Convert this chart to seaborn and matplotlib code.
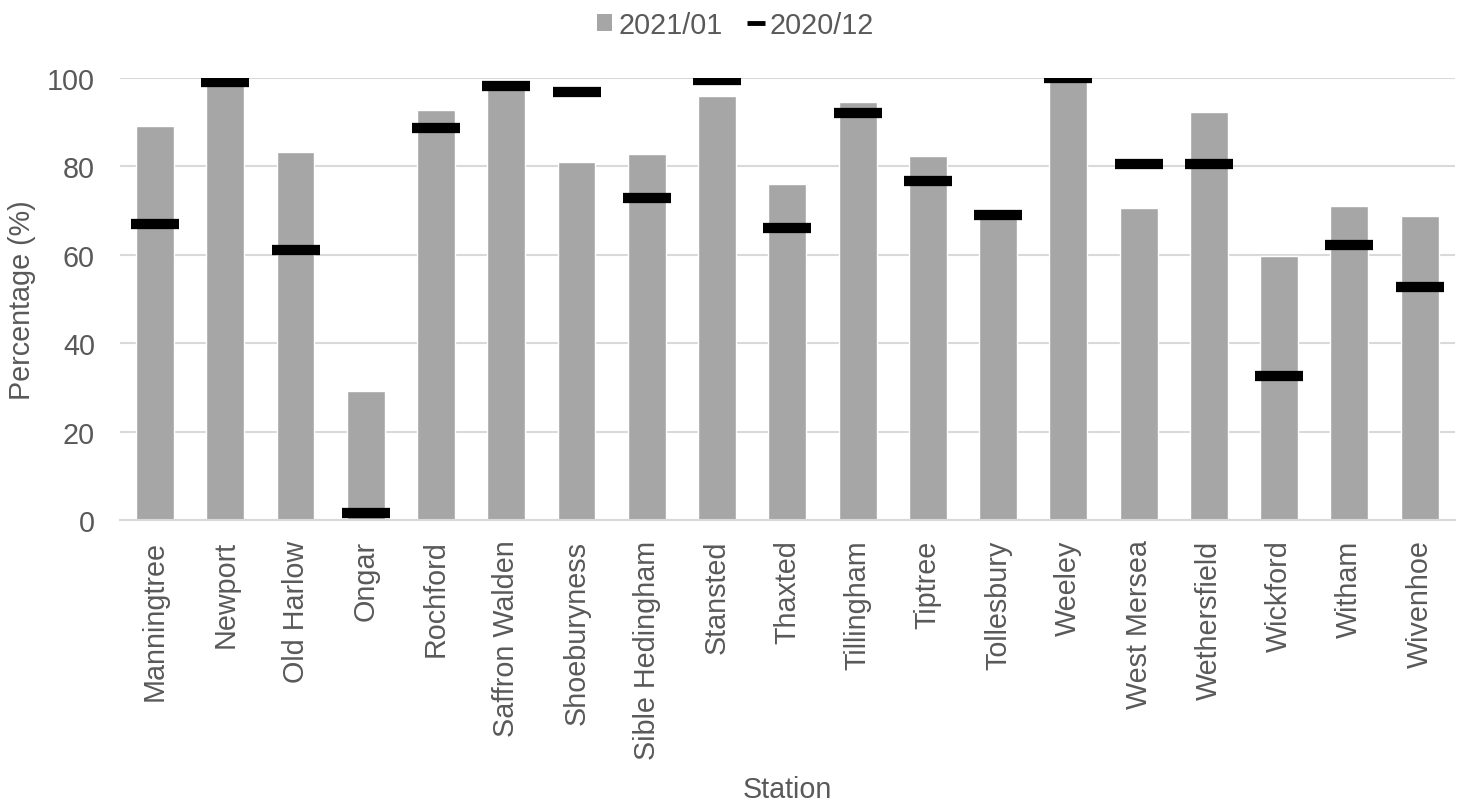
import seaborn as sns
import matplotlib.pyplot as plt
import pandas as pd
from matplotlib.patches import Patch
from matplotlib.lines import Line2D

# Values
stations = ['Manningtree', 'Newport', 'Old Harlow', 'Ongar', 'Rochford',
            'Saffron Walden', 'Shoeburyness', 'Sible Hedingham', 'Stansted',
            'Thaxted', 'Tillingham', 'Tiptree', 'Tollesbury', 'Weeley',
            'West Mersea', 'Wethersfield', 'Wickford', 'Witham', 'Wivenhoe']
jan_2021 = [89.1, 98.5, 83.2, 29.1, 92.8, 97.5, 81.0, 82.8, 95.9, 76.0,
            94.6, 82.3, 68.5, 99.5, 70.6, 92.3, 59.7, 71.0, 68.8]
dec_2020 = [66.9, 99.0, 61.0, 1.6, 88.7, 98.1, 96.8, 72.8, 99.5, 66.0,
            92.2, 76.8, 69.1, 100.0, 80.5, 80.5, 32.5, 62.3, 52.8]

data = pd.DataFrame({'Station': stations, '2021/01': jan_2021, '2020/12': dec_2020})

sns.set_style("white")
plt.rcParams['font.family'] = ['Liberation Sans', 'DejaVu Sans']
text_color = '#595959'
bar_color = '#A6A6A6'
grid_color = '#D9D9D9'
fs = 20.7

fig = plt.figure(figsize=(14.62, 8.03), dpi=100)
ax = fig.add_axes([0.082, 0.351, 0.913, 0.5506])

sns.barplot(data=data, x='Station', y='2021/01', color=bar_color,
            width=0.54, saturation=1, ax=ax, zorder=2)
sns.pointplot(data=data, x='Station', y='2020/12', color='black',
              marker='_', linestyle='none', markersize=34,
              markeredgewidth=7.4, ax=ax, zorder=3)

ax.set_ylim(0, 100)
ax.set_xlim(-0.5, len(stations) - 0.5)
ax.set_yticks([0, 20, 40, 60, 80, 100])
ax.yaxis.grid(True, color=grid_color, linewidth=1.5, zorder=0)
ax.set_axisbelow(True)
for side in ['top', 'right', 'left']:
    ax.spines[side].set_visible(False)
ax.spines['bottom'].set_color(grid_color)
ax.spines['bottom'].set_linewidth(1.5)

ax.tick_params(axis='y', length=0, pad=18, labelsize=fs, labelcolor=text_color)
ax.tick_params(axis='x', length=0, pad=14, labelsize=fs, labelcolor=text_color,
               rotation=90)

ax.set_xlabel('Station', fontsize=fs, color=text_color, labelpad=12)
ax.set_ylabel('Percentage (%)', fontsize=fs, color=text_color, labelpad=8)

handles = [
    Patch(facecolor=bar_color, edgecolor='none', label='2021/01'),
    Line2D([0], [0], color='black', marker='_', linestyle='none',
           markersize=13, markeredgewidth=3.5, label='2020/12'),
]
fig.legend(handles=handles, loc='center', bbox_to_anchor=(0.503, 0.968),
           ncol=2, frameon=False, fontsize=fs, labelcolor=text_color,
           handlelength=0.55, handleheight=0.55, handletextpad=0.2,
           columnspacing=0.9)

plt.savefig('out.png', dpi=100)
